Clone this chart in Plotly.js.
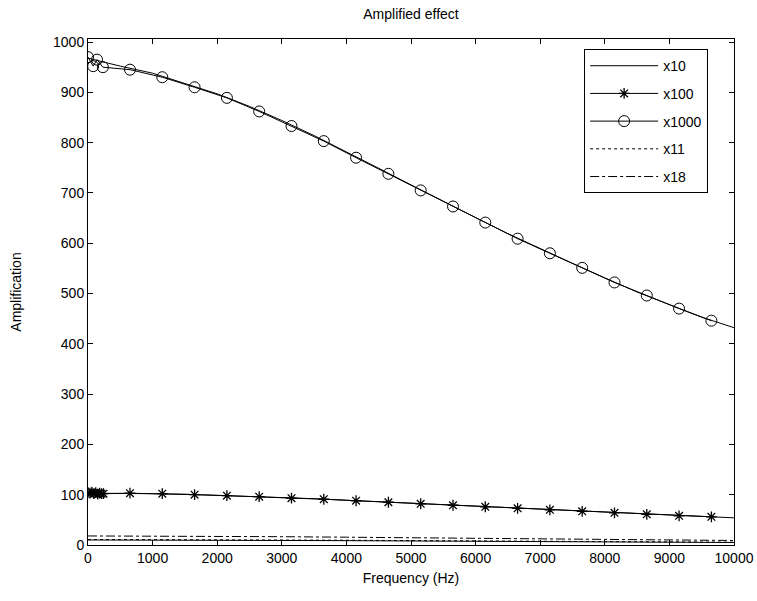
<!DOCTYPE html>
<html><head><meta charset="utf-8">
<script src="https://cdn.plot.ly/plotly-3.0.1.min.js"></script>
<style>html,body{margin:0;padding:0;background:#fff}#chart{width:757px;height:601px}</style>
</head><body><div id="chart"></div>
<script>
// x1000 series (measured points, circles)
const x1000_f = [0, 80, 140, 230, 650, 1150, 1650, 2150, 2650, 3150, 3650, 4150, 4650, 5150, 5650, 6150, 6650, 7150, 7650, 8150, 8650, 9150, 9650];
const x1000_v = [970, 952, 965, 950, 945, 930, 910, 889, 862, 833, 803, 770, 738, 705, 673, 641, 609, 580, 551, 522, 496, 470, 446];
// x100 series (measured points, stars)
const x100_f = [0, 30, 60, 90, 120, 150, 180, 210, 240, 650, 1150, 1650, 2150, 2650, 3150, 3650, 4150, 4650, 5150, 5650, 6150, 6650, 7150, 7650, 8150, 8650, 9150, 9650];
const x100_v = [104, 103, 105, 102, 104, 101, 103, 102, 102, 103, 102, 100, 98, 96, 93, 91, 88, 85, 82, 79, 76, 73, 70, 67, 64, 61, 58, 56];
// continuous curves
const freq = [0, 500, 1000, 1500, 2000, 2500, 3000, 3500, 4000, 4500, 5000, 5500, 6000, 6500, 7000, 7500, 8000, 8500, 9000, 9500, 10000];
const curve1000 = [968, 952, 938, 918, 897, 872, 844, 814, 782, 749, 716, 683, 651, 619, 589, 560, 531, 503, 478, 453, 432];
const curve100 = [103, 103, 102, 101, 99, 97, 94, 92, 89, 86, 83, 80, 77, 74, 71, 68, 65, 62, 59, 57, 54];
const freqLow = [0, 1000, 2000, 3000, 4000, 5000, 6000, 7000, 8000, 9000, 10000];
const curve10 = [10, 9.9, 9.6, 9.2, 8.6, 8.0, 7.3, 6.7, 6.1, 5.5, 5.0];
const curve11 = [11, 10.9, 10.6, 10.1, 9.5, 8.8, 8.1, 7.4, 6.7, 6.1, 5.5];
const curve18 = [18, 17.8, 17.3, 16.5, 15.5, 14.4, 13.2, 12.1, 11.0, 9.9, 9.0];
const names = ['x10', 'x100', 'x1000', 'x11', 'x18'];
const xTicks = [0, 1000, 2000, 3000, 4000, 5000, 6000, 7000, 8000, 9000, 10000];
const xTickText = ['0', '1000', '2000', '3000', '4000', '5000', '6000', '7000', '8000', '9000', '10000'];
const yTicks = [0, 100, 200, 300, 400, 500, 600, 700, 800, 900, 1000];

const blk = 'black';
const traces = [
  {x: freqLow, y: curve10, name: names[0], mode: 'lines', line: {color: blk, width: 1}, legendgroup: 'a'},
  {x: x100_f, y: x100_v, name: names[1], mode: 'lines+markers', line: {color: blk, width: 1},
   marker: {symbol: 'asterisk-open', size: 9, color: blk, line: {color: blk, width: 1.3}}, legendgroup: 'b'},
  {x: x1000_f, y: x1000_v, name: names[2], mode: 'lines+markers', line: {color: blk, width: 1},
   marker: {symbol: 'circle-open', size: 11, color: blk, line: {color: blk, width: 1}}, legendgroup: 'c'},
  {x: freqLow, y: curve11, name: names[3], mode: 'lines', line: {color: blk, width: 1, dash: 'dot'}, legendgroup: 'd'},
  {x: freqLow, y: curve18, name: names[4], mode: 'lines', line: {color: blk, width: 1, dash: 'dashdot'}, legendgroup: 'e'},
  {x: freq, y: curve1000, mode: 'lines', line: {color: blk, width: 1}, showlegend: false, hoverinfo: 'skip'},
  {x: freq, y: curve100, mode: 'lines', line: {color: blk, width: 1}, showlegend: false, hoverinfo: 'skip'}
];

const axisCommon = {
  showline: true, linecolor: blk, linewidth: 1, mirror: 'ticks', ticks: 'inside', ticklen: 5,
  tickcolor: blk, showgrid: false, zeroline: false, tickfont: {size: 14, color: blk}
};

const layout = {
  width: 757, height: 601,
  margin: {l: 88, r: 23, t: 39, b: 56},
  paper_bgcolor: 'white', plot_bgcolor: 'white',
  font: {family: 'Liberation Sans, Arial, sans-serif', size: 14, color: blk},
  title: {text: 'Amplified effect', x: 0.5, xref: 'paper', y: 0.977, yref: 'container', yanchor: 'middle', font: {size: 14}},
  xaxis: Object.assign({}, axisCommon, {range: [0, 10000], tickvals: xTicks, ticktext: xTickText,
    title: {text: 'Frequency (Hz)', font: {size: 14}, standoff: 8}}),
  yaxis: Object.assign({}, axisCommon, {range: [0, 1006], tickvals: yTicks,
    title: {text: 'Amplification', font: {size: 14}, standoff: 28}}),
  legend: {x: 0.768, y: 0.98, xanchor: 'left', yanchor: 'top', bordercolor: blk, borderwidth: 1, bgcolor: 'white',
    font: {size: 14}, tracegroupgap: 6.5, itemwidth: 68, entrywidth: 148, entrywidthmode: 'pixels'},
  showlegend: true
};

Plotly.newPlot('chart', traces, layout, {displayModeBar: false, staticPlot: true});
</script></body></html>
